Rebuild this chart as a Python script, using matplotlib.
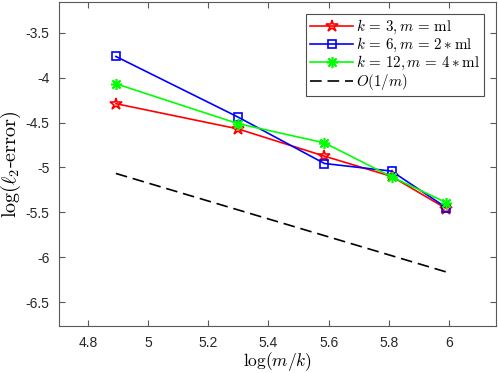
import numpy as np
import matplotlib
matplotlib.use("Agg")
import matplotlib.pyplot as plt

plt.rcParams['mathtext.fontset'] = 'cm'
plt.rcParams['font.family'] = ['Liberation Sans', 'DejaVu Sans']
plt.rcParams['axes.unicode_minus'] = False

# data
x = [4.893, 5.298, 5.586, 5.809, 5.991]
err_k3 = [-4.289, -4.570, -4.874, -5.100, -5.459]
err_k6 = [-3.763, -4.437, -4.956, -5.041, -5.448]
err_k12 = [-4.067, -4.511, -4.726, -5.104, -5.392]
ref_x = [4.893, 5.991]
ref_y = [-5.067, -6.165]

labels = [r'$k\,=\,3, m\,=\,\mathrm{ml}$', r'$k\,=\,6, m\,=\,2\ast\mathrm{ml}$',
          r'$k\,=\,12, m\,=\,4\ast\mathrm{ml}$', r'$O(1/m)$']
xticks = [4.8, 5.0, 5.2, 5.4, 5.6, 5.8, 6.0]
xticklabels = ['4.8', '5', '5.2', '5.4', '5.6', '5.8', '6']
yticks = [-6.5, -6, -5.5, -5, -4.5, -4, -3.5]
yticklabels = ['-6.5', '-6', '-5.5', '-5', '-4.5', '-4', '-3.5']

fig = plt.figure(figsize=(4.98, 3.73), dpi=100)
ax = fig.add_axes([59/498, 1-326/373, (496-59)/498, (326-2)/373])

lw = 1.2
ax.plot(x, err_k3, color=(1, 0, 0), lw=lw, marker='*', ms=9, mfc='none', mew=1.2, label=labels[0])
ax.plot(x, err_k6, color=(0, 0, 1), lw=lw, marker='s', ms=6, mfc='none', mew=1.2, label=labels[1])
ax.plot(x, err_k12, color=(0, 1, 0), lw=lw, marker=(8, 2, 0), ms=8, mew=1.2, label=labels[2])
ax.plot(ref_x, ref_y, color='k', lw=lw, dashes=[7, 3.5], label=labels[3])

ax.set_xlim(4.704, 6.156)
ax.set_ylim(-6.767, -3.156)
ax.set_xticks(xticks)
ax.set_xticklabels(xticklabels)
ax.set_yticks(yticks)
ax.set_yticklabels(yticklabels)

axcol = '0.35'
for s in ax.spines.values():
    s.set_color(axcol)
    s.set_linewidth(0.8)
ax.tick_params(direction='in', top=True, right=True, length=4, width=0.8,
               color=axcol, labelsize=10, labelcolor='0.15', pad=7)

ax.set_xlabel(r'$\log(m/k)$', fontsize=12.5, labelpad=0)
ax.set_ylabel(r'$\log(\ell_2$-error$)$', fontsize=14.5, fontfamily='cmr10', labelpad=2)

leg = ax.legend(loc='upper right', fontsize=10.8, fancybox=False, framealpha=1,
                edgecolor='0.3', handlelength=2.9, borderaxespad=0.8,
                handletextpad=0.2, labelspacing=0.0, borderpad=0.25)
leg.get_frame().set_linewidth(0.8)

fig.savefig('out.png', dpi=100)
